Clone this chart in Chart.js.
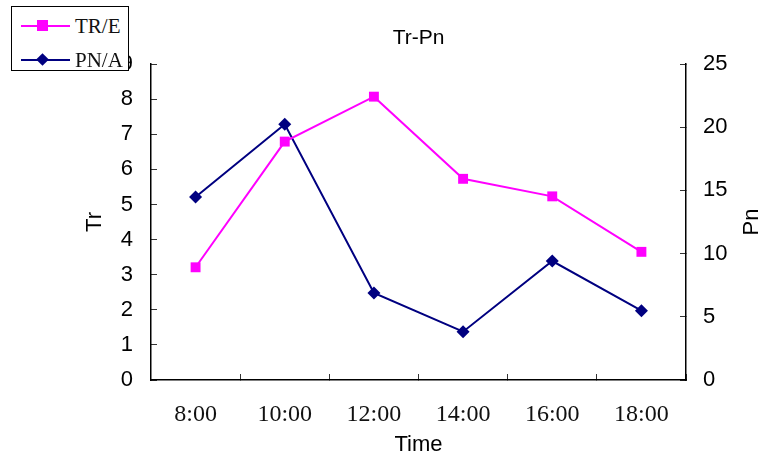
<!DOCTYPE html>
<html>
<head>
<meta charset="utf-8">
<script src="https://cdn.jsdelivr.net/npm/chart.js@4/dist/chart.umd.min.js"></script>
<style>
  body { margin: 0; background: #fff; }
  #wrap { position: relative; width: 762px; height: 458px; }
  #legend {
    position: absolute; left: 11px; top: 6px; width: 116px; height: 63px;
    border: 1px solid #000; background: #fff;
    font-family: "Liberation Serif", "DejaVu Serif", serif; font-size: 21px;
  }
  .row { position: absolute; left: 0; height: 24px; width: 116px; }
  .ln { position: absolute; left: 9px; top: 11px; width: 49px; height: 2px; }
  .mk { position: absolute; }
  .lb { position: absolute; left: 63px; top: 0; line-height: 24px; color: #111; }
</style>
</head>
<body>
<div id="wrap">
  <canvas id="c" width="762" height="458"></canvas>
  <div id="legend"></div>
</div>
<script>
const horas = ["8:00", "10:00", "12:00", "14:00", "16:00", "18:00"];
const trE = [3.21, 6.79, 8.07, 5.73, 5.23, 3.65];
const pnA = [14.48, 20.23, 6.88, 3.82, 9.41, 5.48];

const corTR = "#ff00ff";
const corPN = "#000080";
const fonteSans = "'Liberation Sans', Arial, sans-serif";
const fonteSerif = "'Liberation Serif', 'DejaVu Serif', serif";

// titulo do eixo direito, escrito de baixo para cima como no original
const tituloDireito = {
  id: "tituloDireito",
  afterDraw(chart) {
    const s = chart.scales.y2;
    const ctx = chart.ctx;
    ctx.save();
    ctx.translate(752, (s.top + s.bottom) / 2);
    ctx.rotate(-Math.PI / 2);
    ctx.font = "22px " + fonteSans;
    ctx.fillStyle = "#000";
    ctx.textAlign = "center";
    ctx.textBaseline = "middle";
    ctx.fillText("Pn", 0, 0);
    ctx.restore();
  }
};

const chart = new Chart(document.getElementById("c"), {
  type: "line",
  data: {
    labels: horas,
    datasets: [
      {
        label: "TR/E",
        data: trE,
        yAxisID: "y",
        borderColor: corTR,
        backgroundColor: corTR,
        borderWidth: 2,
        pointStyle: "rect",
        pointRadius: 7,
        pointBorderWidth: 0,
        tension: 0
      },
      {
        label: "PN/A",
        data: pnA,
        yAxisID: "y2",
        borderColor: corPN,
        backgroundColor: corPN,
        borderWidth: 2,
        pointStyle: "rectRot",
        pointRadius: 6.5,
        pointBorderWidth: 0,
        tension: 0
      }
    ]
  },
  options: {
    responsive: false,
    animation: false,
    layout: { padding: 0 },
    plugins: {
      legend: { display: false },
      tooltip: { enabled: false },
      title: {
        display: true,
        text: "Tr-Pn",
        fullSize: false,
        color: "#000",
        font: { family: fonteSans, size: 21, weight: "normal" },
        padding: { top: 26, bottom: 12.8 }
      }
    },
    scales: {
      x: {
        offset: true,
        // marcas para dentro, como no excel
        grid: { drawOnChartArea: false, offset: true, tickLength: -6, color: "#333", lineWidth: 1 },
        border: { display: true, color: "#000", width: 1.5 },
        ticks: {
          color: "#111",
          padding: 26,
          maxRotation: 0,
          font: { family: fonteSerif, size: 24 }
        },
        title: {
          display: true,
          text: "Time",
          color: "#000",
          font: { family: fonteSans, size: 22 },
          padding: { top: 0, bottom: 0 }
        },
        afterFit(s) { s.height = 78; }
      },
      y: {
        position: "left",
        min: 0,
        max: 9,
        ticks: {
          stepSize: 1,
          color: "#000",
          padding: 24,
          font: { family: fonteSans, size: 22 }
        },
        grid: { drawOnChartArea: false, tickLength: -6, color: "#333" },
        border: { display: true, color: "#000", width: 1.5 },
        title: {
          display: true,
          text: "Tr",
          color: "#000",
          font: { family: fonteSans, size: 22 },
          padding: { top: 82, bottom: 0 }
        },
        afterFit(s) { s.width = 151; }
      },
      y2: {
        position: "right",
        min: 0,
        max: 25,
        ticks: {
          stepSize: 5,
          color: "#000",
          padding: 23,
          font: { family: fonteSans, size: 22 }
        },
        grid: { drawOnChartArea: false, tickLength: -6, color: "#333" },
        border: { display: true, color: "#000", width: 1.5 },
        afterFit(s) { s.width = 76; }
      }
    }
  },
  plugins: [tituloDireito]
});

// legenda em html por cima do canvas, como a caixa do original
const legenda = document.getElementById("legend");
chart.data.datasets.forEach((ds, i) => {
  const row = document.createElement("div");
  row.className = "row";
  row.style.top = (7 + i * 34) + "px";
  const ln = document.createElement("div");
  ln.className = "ln";
  ln.style.background = ds.borderColor;
  const mk = document.createElement("div");
  mk.className = "mk";
  if (ds.pointStyle === "rect") {
    mk.style.cssText = "left:25px;top:6px;width:11px;height:11px;background:" + ds.backgroundColor;
  } else {
    mk.style.cssText = "left:26px;top:7px;width:9px;height:9px;transform:rotate(45deg);background:" + ds.backgroundColor;
  }
  const lb = document.createElement("div");
  lb.className = "lb";
  lb.textContent = ds.label;
  row.appendChild(ln);
  row.appendChild(mk);
  row.appendChild(lb);
  legenda.appendChild(row);
});
</script>
</body>
</html>
